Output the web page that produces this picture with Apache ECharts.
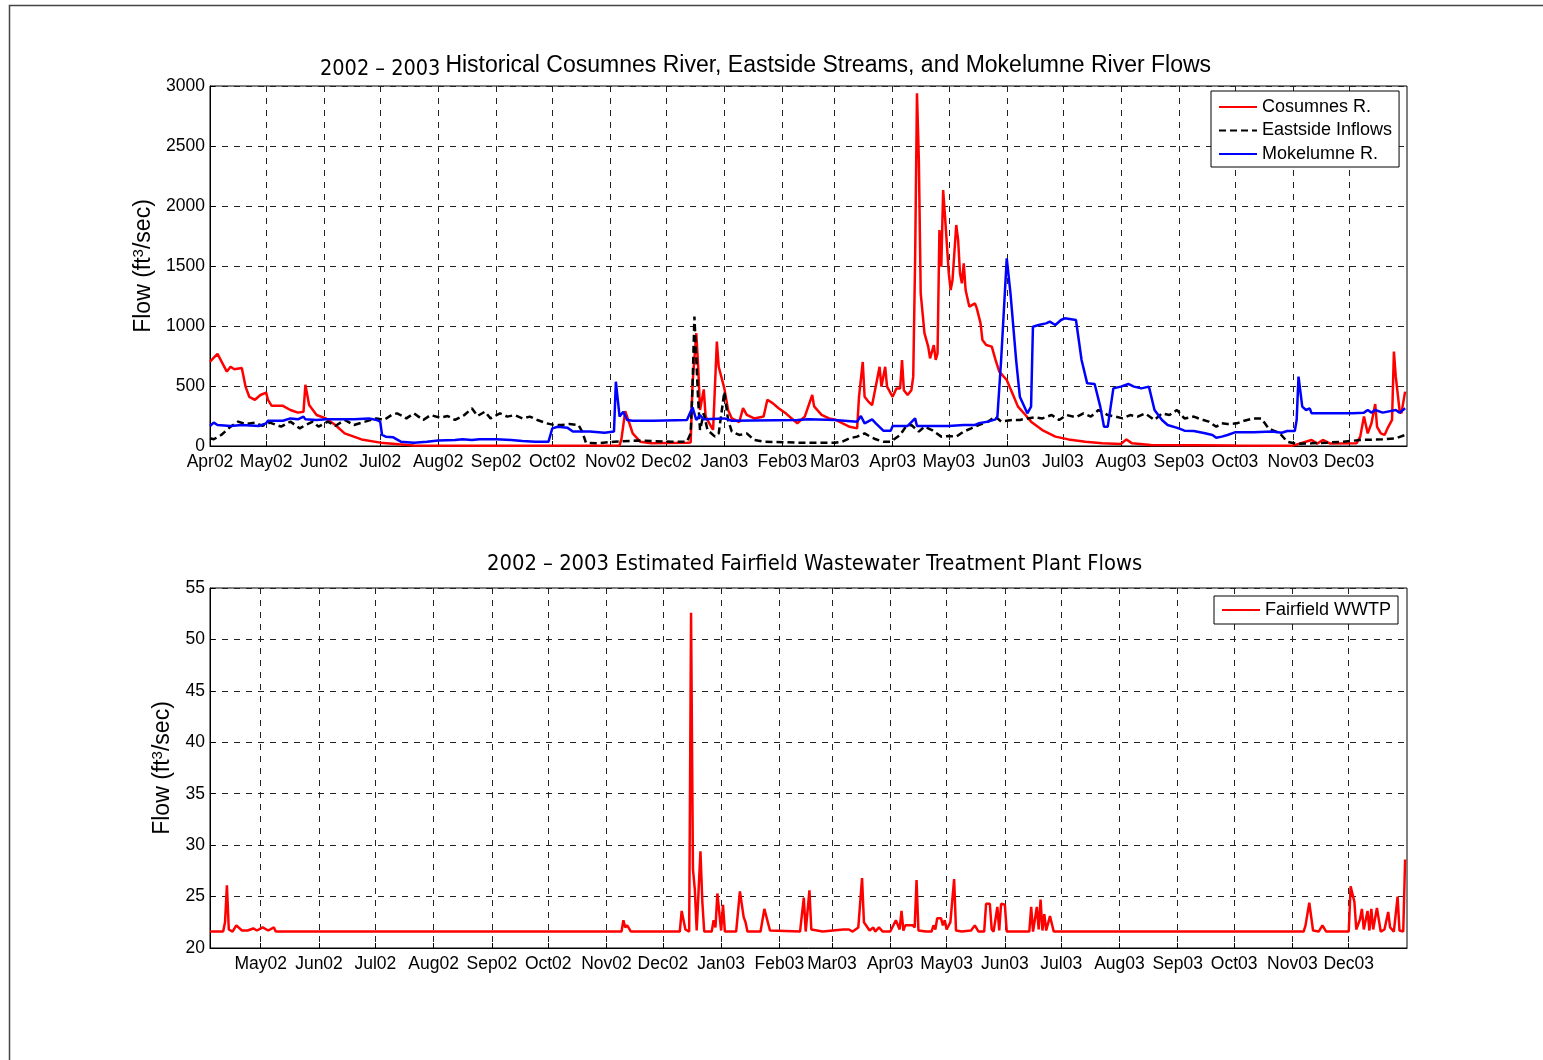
<!DOCTYPE html>
<html>
<head>
<meta charset="utf-8">
<script src="https://cdn.jsdelivr.net/npm/echarts@6/dist/echarts.min.js"></script>
<style>
  html, body { margin: 0; padding: 0; background: #fff; }
  #chart { width: 1543px; height: 1060px; }
</style>
</head>
<body>
<div id="chart"></div>
<script>
// month tick marks (first of each month)
const topTicks = ['2002-04-01', '2002-05-01', '2002-06-01', '2002-07-01', '2002-08-01', '2002-09-01',
  '2002-10-01', '2002-11-01', '2002-12-01', '2003-01-01', '2003-02-01', '2003-03-01', '2003-04-01',
  '2003-05-01', '2003-06-01', '2003-07-01', '2003-08-01', '2003-09-01', '2003-10-01', '2003-11-01',
  '2003-12-01']
const bottomTicks = topTicks.slice(1)
const monthNames = ['Jan', 'Feb', 'Mar', 'Apr', 'May', 'Jun', 'Jul', 'Aug', 'Sep', 'Oct', 'Nov', 'Dec']

// Cosumnes R. (ft3/sec)
const cosDates = ['2002-04-01', '2002-04-05', '2002-04-10', '2002-04-12', '2002-04-14', '2002-04-18',
  '2002-04-20', '2002-04-22', '2002-04-25', '2002-04-28', '2002-05-01', '2002-05-02', '2002-05-04',
  '2002-05-10', '2002-05-14', '2002-05-18', '2002-05-21', '2002-05-22', '2002-05-24', '2002-05-28',
  '2002-06-02', '2002-06-07', '2002-06-12', '2002-06-21', '2002-07-01', '2002-07-11', '2002-07-19',
  '2002-09-01', '2002-11-06', '2002-11-07', '2002-11-09', '2002-11-11', '2002-11-13', '2002-11-17',
  '2002-11-23', '2002-12-12', '2002-12-14', '2002-12-15', '2002-12-17', '2002-12-18', '2002-12-19',
  '2002-12-21', '2002-12-22', '2002-12-25', '2002-12-26', '2002-12-28', '2002-12-29', '2003-01-01',
  '2003-01-03', '2003-01-05', '2003-01-09', '2003-01-11', '2003-01-13', '2003-01-17', '2003-01-22',
  '2003-01-24', '2003-01-27', '2003-01-30', '2003-02-03', '2003-02-09', '2003-02-13', '2003-02-17',
  '2003-02-18', '2003-02-22', '2003-02-26', '2003-03-01', '2003-03-05', '2003-03-09', '2003-03-13',
  '2003-03-14', '2003-03-16', '2003-03-17', '2003-03-19', '2003-03-21', '2003-03-25', '2003-03-26',
  '2003-03-28', '2003-03-29', '2003-04-01', '2003-04-03', '2003-04-05', '2003-04-06', '2003-04-07',
  '2003-04-09', '2003-04-11', '2003-04-12', '2003-04-13', '2003-04-14', '2003-04-15', '2003-04-16',
  '2003-04-18', '2003-04-20', '2003-04-21', '2003-04-23', '2003-04-24', '2003-04-25', '2003-04-26',
  '2003-04-27', '2003-04-28', '2003-04-29', '2003-05-01', '2003-05-02', '2003-05-03', '2003-05-05',
  '2003-05-06', '2003-05-07', '2003-05-08', '2003-05-09', '2003-05-10', '2003-05-12', '2003-05-13',
  '2003-05-15', '2003-05-16', '2003-05-18', '2003-05-19', '2003-05-21', '2003-05-24', '2003-05-26',
  '2003-05-28', '2003-06-01', '2003-06-04', '2003-06-07', '2003-06-11', '2003-06-14', '2003-06-20',
  '2003-06-27', '2003-07-04', '2003-07-13', '2003-07-22', '2003-08-01', '2003-08-04', '2003-08-07',
  '2003-08-17', '2003-10-01', '2003-11-01', '2003-11-11', '2003-11-14', '2003-11-17', '2003-11-21',
  '2003-12-05', '2003-12-07', '2003-12-09', '2003-12-11', '2003-12-13', '2003-12-15', '2003-12-16',
  '2003-12-18', '2003-12-20', '2003-12-22', '2003-12-24', '2003-12-25', '2003-12-26', '2003-12-28',
  '2003-12-29', '2003-12-31']
const cosValues = [703, 767, 620, 660, 640, 650,
  495, 410, 385, 425, 445, 385, 335,
  335, 300, 278, 286, 510, 342, 258,
  230, 175, 105, 55, 28, 14, 4,
  3, 5, 60, 290, 200, 105, 36,
  22, 28, 30, 520, 940, 660, 300,
  472, 245, 160, 135, 870, 660, 480,
  300, 230, 200, 315, 260, 230, 245,
  385, 355, 315, 270, 190, 245, 425,
  330, 260, 230, 222, 190, 160, 147,
  410, 700, 410, 370, 340, 660, 495,
  660, 495, 410, 480, 480, 715, 465,
  425, 465, 578, 1550, 2940, 2385, 1272,
  940, 828, 730, 840, 717, 772, 1800,
  1495, 2133, 1911, 1440, 1300, 1383, 1842,
  1717, 1440, 1356, 1522, 1300, 1161, 1147,
  1189, 1147, 1022, 883, 842, 828, 717,
  620, 550, 440, 328, 258, 203, 133,
  78, 55, 36, 22, 17, 55, 22,
  8, 4, 3, 50, 20, 50, 20,
  22, 78, 245, 105, 190, 350, 160,
  105, 92, 160, 217, 787, 578, 300,
  272, 453]

// Eastside Inflows (ft3/sec)
const eastDates = ['2002-04-01', '2002-04-03', '2002-04-07', '2002-04-12', '2002-04-16', '2002-04-20',
  '2002-04-25', '2002-04-29', '2002-05-03', '2002-05-09', '2002-05-14', '2002-05-19', '2002-05-22',
  '2002-05-26', '2002-05-29', '2002-06-03', '2002-06-07', '2002-06-12', '2002-06-17', '2002-06-23',
  '2002-06-29', '2002-07-03', '2002-07-07', '2002-07-10', '2002-07-13', '2002-07-15', '2002-07-19',
  '2002-07-24', '2002-07-28', '2002-08-02', '2002-08-06', '2002-08-10', '2002-08-15', '2002-08-19',
  '2002-08-22', '2002-08-26', '2002-08-29', '2002-09-03', '2002-09-07', '2002-09-11', '2002-09-15',
  '2002-09-19', '2002-09-23', '2002-09-28', '2002-10-02', '2002-10-06', '2002-10-10', '2002-10-15',
  '2002-10-17', '2002-10-19', '2002-10-25', '2002-11-03', '2002-11-15', '2002-12-04', '2002-12-12',
  '2002-12-14', '2002-12-15', '2002-12-16', '2002-12-18', '2002-12-19', '2002-12-21', '2002-12-23',
  '2002-12-27', '2002-12-29', '2003-01-01', '2003-01-03', '2003-01-05', '2003-01-09', '2003-01-13',
  '2003-01-17', '2003-01-22', '2003-02-09', '2003-03-01', '2003-03-05', '2003-03-09', '2003-03-13',
  '2003-03-17', '2003-03-20', '2003-03-23', '2003-03-27', '2003-03-31', '2003-04-05', '2003-04-08',
  '2003-04-11', '2003-04-15', '2003-04-18', '2003-04-22', '2003-04-27', '2003-05-01', '2003-05-05',
  '2003-05-09', '2003-05-13', '2003-05-17', '2003-05-22', '2003-05-26', '2003-05-29', '2003-06-04',
  '2003-06-08', '2003-06-12', '2003-06-16', '2003-06-20', '2003-06-25', '2003-06-29', '2003-07-03',
  '2003-07-08', '2003-07-12', '2003-07-16', '2003-07-20', '2003-07-25', '2003-07-29', '2003-08-02',
  '2003-08-06', '2003-08-10', '2003-08-14', '2003-08-19', '2003-08-23', '2003-08-27', '2003-08-31',
  '2003-09-04', '2003-09-09', '2003-09-13', '2003-09-17', '2003-09-21', '2003-09-24', '2003-09-27',
  '2003-10-02', '2003-10-06', '2003-10-11', '2003-10-15', '2003-10-17', '2003-10-19', '2003-10-21',
  '2003-10-25', '2003-10-29', '2003-11-03', '2003-11-11', '2003-11-19', '2003-11-28', '2003-12-07',
  '2003-12-19', '2003-12-26', '2003-12-31']
const eastValues = [64, 56, 92, 161, 203, 183,
  195, 167, 195, 161, 203, 147, 175,
  203, 161, 203, 167, 217, 175, 203,
  230, 217, 258, 272, 250, 230, 272,
  217, 258, 236, 250, 217, 258, 314,
  250, 286, 230, 272, 245, 258, 230,
  245, 217, 189, 175, 175, 183, 175,
  120, 28, 22, 36, 45, 36, 36,
  105, 500, 1078, 383, 133, 272, 133,
  78, 105, 453, 217, 120, 92, 105,
  50, 36, 28, 28, 36, 64, 78,
  105, 78, 56, 36, 36, 92, 161,
  175, 120, 161, 133, 78, 83, 78,
  120, 147, 175, 203, 245, 203, 217,
  217, 230, 239, 230, 258, 217, 258,
  239, 272, 245, 300, 258, 245, 230,
  258, 245, 272, 217, 272, 258, 300,
  230, 245, 222, 203, 161, 189, 183,
  189, 211, 230, 230, 189, 147, 133,
  105, 36, 17, 22, 28, 36, 50,
  56, 64, 92]

// Mokelumne R. (ft3/sec)
const mokDates = ['2002-04-01', '2002-04-03', '2002-04-05', '2002-04-12', '2002-04-18', '2002-04-27',
  '2002-05-01', '2002-05-02', '2002-05-10', '2002-05-14', '2002-05-18', '2002-05-21', '2002-05-22',
  '2002-05-28', '2002-06-02', '2002-06-17', '2002-06-25', '2002-06-29', '2002-07-01', '2002-07-02',
  '2002-07-04', '2002-07-08', '2002-07-12', '2002-07-19', '2002-07-26', '2002-08-01', '2002-08-10',
  '2002-08-14', '2002-08-19', '2002-08-23', '2002-09-01', '2002-09-09', '2002-09-15', '2002-09-22',
  '2002-09-29', '2002-10-01', '2002-10-04', '2002-10-09', '2002-10-12', '2002-10-21', '2002-10-29',
  '2002-11-03', '2002-11-04', '2002-11-06', '2002-11-08', '2002-11-10', '2002-11-13', '2002-11-24',
  '2002-12-12', '2002-12-15', '2002-12-17', '2002-12-19', '2002-12-21', '2003-01-01', '2003-01-05',
  '2003-02-09', '2003-02-15', '2003-03-01', '2003-03-13', '2003-03-15', '2003-03-17', '2003-03-21',
  '2003-03-23', '2003-03-27', '2003-03-31', '2003-04-01', '2003-04-09', '2003-04-13', '2003-04-14',
  '2003-05-01', '2003-05-09', '2003-05-15', '2003-05-17', '2003-05-22', '2003-05-26', '2003-05-27',
  '2003-05-29', '2003-06-01', '2003-06-03', '2003-06-06', '2003-06-08', '2003-06-09', '2003-06-12',
  '2003-06-14', '2003-06-15', '2003-06-18', '2003-06-22', '2003-06-24', '2003-06-27', '2003-06-30',
  '2003-07-02', '2003-07-08', '2003-07-11', '2003-07-14', '2003-07-18', '2003-07-21', '2003-07-23',
  '2003-07-25', '2003-07-28', '2003-08-01', '2003-08-05', '2003-08-08', '2003-08-12', '2003-08-16',
  '2003-08-19', '2003-08-23', '2003-08-26', '2003-09-01', '2003-09-04', '2003-09-09', '2003-09-15',
  '2003-09-19', '2003-09-21', '2003-09-24', '2003-09-27', '2003-10-01', '2003-10-11', '2003-10-21',
  '2003-10-26', '2003-10-29', '2003-11-02', '2003-11-03', '2003-11-04', '2003-11-06', '2003-11-08',
  '2003-11-10', '2003-11-11', '2003-11-21', '2003-12-03', '2003-12-09', '2003-12-11', '2003-12-13',
  '2003-12-15', '2003-12-19', '2003-12-26', '2003-12-28', '2003-12-31']
const mokValues = [167, 195, 175, 167, 175, 167,
  189, 211, 211, 230, 222, 245, 222,
  217, 222, 222, 230, 217, 203, 92,
  78, 72, 36, 28, 36, 45, 50,
  56, 50, 56, 56, 50, 42, 36,
  36, 147, 161, 153, 120, 120, 111,
  120, 536, 245, 286, 217, 211, 211,
  217, 322, 217, 258, 222, 230, 211,
  217, 222, 217, 203, 250, 189, 222,
  189, 128, 128, 167, 167, 230, 167,
  167, 175, 175, 189, 203, 222, 245,
  717, 1564, 1272, 717, 411, 397, 272,
  328, 994, 1008, 1022, 1036, 1008, 1050,
  1064, 1050, 717, 522, 517, 328, 161,
  161, 480, 495, 517, 495, 480, 495,
  300, 217, 175, 147, 128, 125, 106,
  92, 69, 78, 92, 114, 114, 120,
  111, 125, 125, 217, 578, 328, 300,
  314, 272, 272, 272, 278, 300, 278,
  300, 278, 300, 278, 314]

// Fairfield WWTP (ft3/sec)
const wwtpDates = ['2002-04-04', '2002-04-11', '2002-04-12', '2002-04-13', '2002-04-14', '2002-04-16',
  '2002-04-18', '2002-04-21', '2002-04-24', '2002-04-27', '2002-04-29', '2002-05-02', '2002-05-05',
  '2002-05-08', '2002-05-09', '2002-11-09', '2002-11-10', '2002-11-11', '2002-11-12', '2002-11-14',
  '2002-12-10', '2002-12-11', '2002-12-13', '2002-12-15', '2002-12-16', '2002-12-17', '2002-12-18',
  '2002-12-19', '2002-12-20', '2002-12-21', '2002-12-22', '2002-12-23', '2002-12-27', '2002-12-28',
  '2002-12-29', '2002-12-30', '2003-01-01', '2003-01-02', '2003-01-03', '2003-01-09', '2003-01-11',
  '2003-01-13', '2003-01-14', '2003-01-15', '2003-01-22', '2003-01-24', '2003-01-27', '2003-02-12',
  '2003-02-14', '2003-02-15', '2003-02-17', '2003-02-18', '2003-02-24', '2003-03-07', '2003-03-10',
  '2003-03-12', '2003-03-15', '2003-03-17', '2003-03-18', '2003-03-21', '2003-03-23', '2003-03-24',
  '2003-03-26', '2003-03-28', '2003-04-01', '2003-04-04', '2003-04-06', '2003-04-07', '2003-04-08',
  '2003-04-09', '2003-04-13', '2003-04-14', '2003-04-15', '2003-04-16', '2003-04-20', '2003-04-23',
  '2003-04-24', '2003-04-25', '2003-04-26', '2003-04-28', '2003-04-29', '2003-04-30', '2003-05-01',
  '2003-05-03', '2003-05-05', '2003-05-06', '2003-05-09', '2003-05-14', '2003-05-16', '2003-05-18',
  '2003-05-21', '2003-05-22', '2003-05-24', '2003-05-25', '2003-05-26', '2003-05-28', '2003-05-29',
  '2003-05-30', '2003-06-01', '2003-06-02', '2003-06-14', '2003-06-15', '2003-06-16', '2003-06-18',
  '2003-06-19', '2003-06-20', '2003-06-21', '2003-06-22', '2003-06-23', '2003-06-25', '2003-06-27',
  '2003-11-07', '2003-11-08', '2003-11-10', '2003-11-12', '2003-11-15', '2003-11-17', '2003-11-19',
  '2003-12-01', '2003-12-02', '2003-12-04', '2003-12-05', '2003-12-07', '2003-12-08', '2003-12-09',
  '2003-12-11', '2003-12-12', '2003-12-13', '2003-12-14', '2003-12-16', '2003-12-18', '2003-12-20',
  '2003-12-22', '2003-12-23', '2003-12-25', '2003-12-27', '2003-12-28', '2003-12-30', '2003-12-31']
const wwtpValues = [21.6, 21.6, 22.5, 26.1, 21.8, 21.6,
  22.2, 21.7, 21.7, 21.9, 21.7, 22.0, 21.7,
  22.0, 21.6, 21.6, 22.7, 22.0, 22.2, 21.6,
  21.6, 23.6, 21.8, 21.6, 52.6, 27.7, 25.7,
  21.7, 21.6, 29.4, 24.5, 21.6, 21.6, 22.7,
  22.0, 25.3, 21.7, 24.2, 21.6, 21.6, 25.5,
  23.0, 22.5, 21.6, 21.6, 23.8, 21.7, 21.6,
  24.9, 21.6, 25.6, 21.8, 21.6, 21.8, 21.8,
  21.6, 22.0, 26.8, 22.5, 21.7, 22.0, 21.6,
  22.0, 21.6, 21.6, 22.7, 21.8, 23.6, 21.7,
  22.2, 22.2, 22.0, 26.6, 21.7, 21.6, 21.6,
  22.2, 21.8, 22.9, 22.9, 22.2, 22.7, 21.8,
  22.5, 26.7, 21.7, 21.6, 21.7, 22.2, 21.6,
  21.6, 24.3, 24.3, 21.8, 21.6, 24.0, 21.7,
  24.3, 24.2, 21.6, 21.6, 24.0, 21.6, 24.0,
  21.8, 24.7, 21.7, 23.3, 21.7, 23.1, 21.6,
  21.6, 22.2, 24.4, 21.7, 21.6, 22.2, 21.6,
  21.6, 26.0, 24.5, 21.8, 22.8, 23.8, 21.8,
  23.6, 21.7, 23.8, 21.8, 23.9, 21.6, 21.8,
  23.5, 22.0, 21.6, 25.0, 21.7, 21.6, 28.6]

const yTopTicks = [0, 500, 1000, 1500, 2000, 2500, 3000]
const yBottomTicks = [20, 25, 30, 35, 40, 45, 50, 55]

const narrowFont = "'Liberation Sans Narrow', 'DejaVu Sans Condensed', sans-serif"
const mainFont = "'Liberation Sans', Arial, sans-serif"

// dates are plain calendar days; use UTC timestamps on a numeric axis
function toTime(s) {
  const p = s.split('-')
  return Date.UTC(+p[0], +p[1] - 1, +p[2])
}

function zip(dates, values) {
  return dates.map((d, i) => [toTime(d), values[i]])
}

function monthLabel(v) {
  const d = new Date(v)
  return monthNames[d.getUTCMonth()] + String(d.getUTCFullYear()).slice(2)
}

function xAxisFor(gridIndex, minDate, ticks) {
  const values = ticks.map(toTime)
  return {
    type: 'value',
    gridIndex: gridIndex,
    min: toTime(minDate),
    max: toTime('2004-01-01'),
    scale: true,
    axisLine: { onZero: false, lineStyle: { color: '#000', width: 1 } },
    axisTick: { inside: true, length: 5, customValues: values, lineStyle: { color: '#000' } },
    axisLabel: {
      customValues: values,
      formatter: monthLabel,
      color: '#000',
      fontSize: 17.5,
      fontFamily: mainFont,
      margin: 7,
      hideOverlap: false,
      showMinLabel: true,
      showMaxLabel: true
    },
    splitLine: { show: true, lineStyle: { color: '#222', type: [6, 6], width: 1 } }
  }
}

function yAxisFor(gridIndex, ticks, gap) {
  return {
    type: 'value',
    gridIndex: gridIndex,
    min: ticks[0],
    max: ticks[ticks.length - 1],
    interval: ticks[1] - ticks[0],
    name: '{a|Flow (ft}{b|3}{a|/sec)}',
    nameLocation: 'middle',
    nameGap: gap,
    nameRotate: 90,
    nameTextStyle: {
      rich: {
        a: { fontSize: 23, fontFamily: mainFont, color: '#000', lineHeight: 25 },
        b: { fontSize: 15, fontFamily: mainFont, color: '#000', verticalAlign: 'top', lineHeight: 25 }
      }
    },
    axisLine: { show: true, onZero: false, lineStyle: { color: '#000', width: 1 } },
    axisTick: { show: true, inside: true, length: 5, lineStyle: { color: '#000' } },
    axisLabel: {
      color: '#000',
      fontSize: 17.5,
      fontFamily: mainFont,
      margin: 5,
      formatter: v => String(v)
    },
    splitLine: { show: true, lineStyle: { color: '#222', type: [6, 6], width: 1 } }
  }
}

const legendBase = {
  orient: 'vertical',
  itemWidth: 38,
  itemHeight: 10,
  backgroundColor: '#fff',
  borderColor: '#000',
  borderWidth: 1,
  borderRadius: 0,
  itemStyle: { opacity: 0 },
  textStyle: { fontSize: 18, fontFamily: mainFont, color: '#000', lineHeight: 20 }
}

const chart = echarts.init(document.getElementById('chart'))

chart.setOption({
  backgroundColor: '#fff',
  animation: false,
  graphic: [
    {
      type: 'polyline',
      shape: { points: [[9.5, 1070], [9.5, 5.5], [1560, 5.5]] },
      style: { stroke: '#444', lineWidth: 1.5, fill: null },
      silent: true
    }
  ],
  title: [
    {
      text: '{n|2002 – 2003} {r|Historical Cosumnes River, Eastside Streams, and Mokelumne River Flows}',
      left: 315,
      top: 46,
      textStyle: {
        fontWeight: 'normal',
        rich: {
          n: { fontFamily: narrowFont, fontSize: 21.5, fontWeight: 'normal', color: '#000', padding: [7, 0, 0, 0] },
          r: { fontFamily: mainFont, fontSize: 23, fontWeight: 'normal', color: '#000' }
        }
      }
    },
    {
      text: '2002 – 2003 Estimated Fairfield Wastewater Treatment Plant Flows',
      left: 482,
      top: 548,
      textStyle: { fontFamily: narrowFont, fontSize: 21.8, fontWeight: 'normal', color: '#000' }
    }
  ],
  grid: [
    { left: 210, top: 86, width: 1197, height: 360, show: true, borderColor: '#000', borderWidth: 1 },
    { left: 210, top: 588, width: 1197, height: 360, show: true, borderColor: '#000', borderWidth: 1 }
  ],
  legend: [
    Object.assign({}, legendBase, {
      left: 1211,
      top: 91,
      padding: [6, 7, 3, 7],
      itemGap: 3.5,
      data: ['Cosumnes R.', 'Eastside Inflows', 'Mokelumne R.']
    }),
    Object.assign({}, legendBase, {
      left: 1214,
      top: 596,
      padding: [4, 7, 4, 7],
      data: ['Fairfield WWTP']
    })
  ],
  xAxis: [
    xAxisFor(0, '2002-04-01', topTicks),
    xAxisFor(1, '2002-04-04', bottomTicks)
  ],
  yAxis: [
    yAxisFor(0, yTopTicks, 53),
    yAxisFor(1, yBottomTicks, 33)
  ],
  series: [
    {
      name: 'Cosumnes R.',
      type: 'line',
      xAxisIndex: 0,
      yAxisIndex: 0,
      symbol: 'none',
      color: '#ff0000',
      lineStyle: { width: 2.5, color: '#ff0000' },
      data: zip(cosDates, cosValues)
    },
    {
      name: 'Eastside Inflows',
      type: 'line',
      xAxisIndex: 0,
      yAxisIndex: 0,
      symbol: 'none',
      color: '#000',
      lineStyle: { width: 2.5, color: '#000', type: [7, 4] },
      data: zip(eastDates, eastValues)
    },
    {
      name: 'Mokelumne R.',
      type: 'line',
      xAxisIndex: 0,
      yAxisIndex: 0,
      symbol: 'none',
      color: '#0000ff',
      lineStyle: { width: 2.5, color: '#0000ff' },
      data: zip(mokDates, mokValues)
    },
    {
      name: 'Fairfield WWTP',
      type: 'line',
      xAxisIndex: 1,
      yAxisIndex: 1,
      symbol: 'none',
      color: '#ff0000',
      lineStyle: { width: 2.5, color: '#ff0000' },
      data: zip(wwtpDates, wwtpValues)
    }
  ]
})
</script>
</body>
</html>
